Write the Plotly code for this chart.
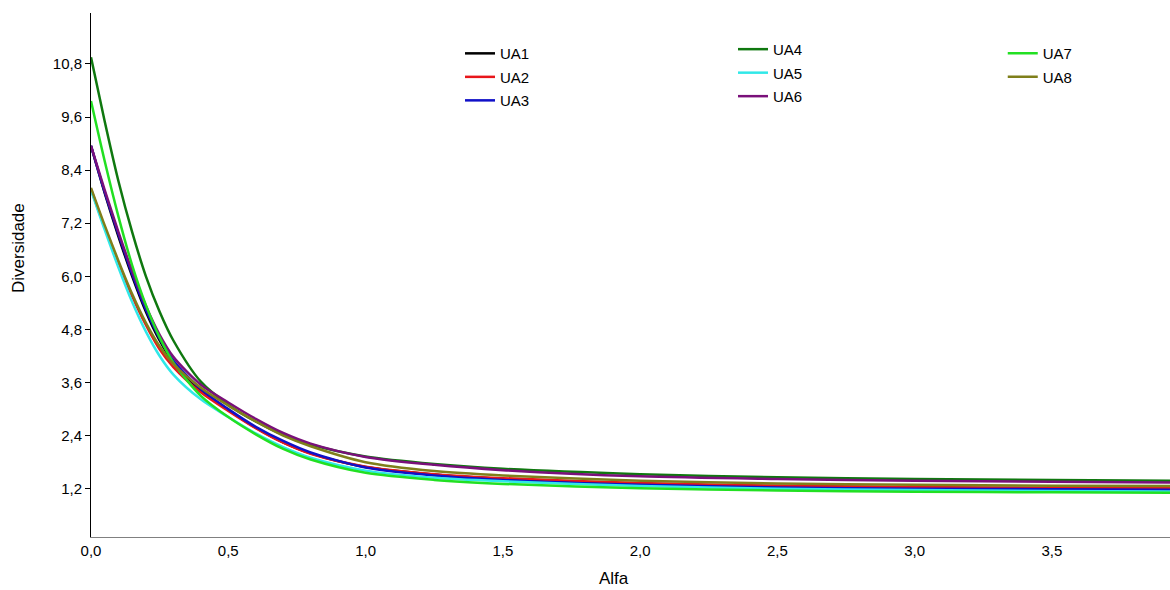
import plotly.graph_objects as go

alpha = [0, 0.05, 0.1, 0.15, 0.2, 0.25, 0.3, 0.4, 0.5, 0.6, 0.7, 0.8, 1.0, 1.25, 1.5, 2.0, 2.5, 3.0, 3.5, 3.93]

ua1 = [8.95, 7.88, 6.90, 6.00, 5.20, 4.55, 4.05, 3.42, 2.98, 2.58, 2.25, 2.00, 1.69, 1.52, 1.42, 1.31, 1.26, 1.23, 1.21, 1.20]
ua2 = [7.97, 7.10, 6.30, 5.55, 4.90, 4.35, 3.95, 3.38, 2.96, 2.57, 2.24, 1.99, 1.70, 1.53, 1.44, 1.33, 1.27, 1.24, 1.22, 1.21]
ua3 = [8.95, 7.90, 6.95, 6.05, 5.25, 4.60, 4.10, 3.45, 3.00, 2.60, 2.28, 2.02, 1.68, 1.50, 1.40, 1.29, 1.23, 1.20, 1.19, 1.18]
ua4 = [10.95, 9.50, 8.15, 7.00, 6.00, 5.20, 4.55, 3.62, 3.10, 2.72, 2.42, 2.20, 1.93, 1.76, 1.65, 1.53, 1.46, 1.42, 1.40, 1.38]
ua5 = [7.95, 7.05, 6.20, 5.42, 4.75, 4.20, 3.78, 3.22, 2.82, 2.45, 2.14, 1.90, 1.61, 1.45, 1.37, 1.26, 1.20, 1.17, 1.15, 1.14]
ua6 = [8.95, 7.95, 7.00, 6.12, 5.33, 4.68, 4.18, 3.55, 3.15, 2.78, 2.46, 2.22, 1.92, 1.74, 1.62, 1.48, 1.42, 1.38, 1.36, 1.34]
ua7 = [9.96, 8.60, 7.35, 6.25, 5.35, 4.62, 4.05, 3.30, 2.82, 2.43, 2.10, 1.86, 1.56, 1.40, 1.31, 1.21, 1.16, 1.13, 1.12, 1.11]
ua8 = [8.00, 7.15, 6.35, 5.60, 4.95, 4.42, 4.02, 3.48, 3.08, 2.72, 2.40, 2.16, 1.80, 1.60, 1.50, 1.38, 1.32, 1.29, 1.27, 1.26]

names = ["UA1", "UA2", "UA3", "UA4", "UA5", "UA6", "UA7", "UA8"]
series = [ua1, ua2, ua3, ua4, ua5, ua6, ua7, ua8]
colors = ["#000000", "#e8161a", "#1010c8", "#0f780f", "#30e8e8", "#7a107a", "#22e022", "#7f7f1a"]
legends = ["legend", "legend", "legend", "legend2", "legend2", "legend2", "legend3", "legend3"]

yticks = [1.2, 2.4, 3.6, 4.8, 6.0, 7.2, 8.4, 9.6, 10.8]
xticks = [0.0, 0.5, 1.0, 1.5, 2.0, 2.5, 3.0, 3.5]

fig = go.Figure()
for n, s, c, lg in zip(names, series, colors, legends):
    fig.add_trace(go.Scatter(x=alpha, y=s, name=n, mode="lines",
                             line=dict(color=c, width=2.5, shape="spline", smoothing=0.8),
                             legend=lg, legendgroup=n))

font = dict(family="Liberation Sans, Arial, sans-serif", size=15, color="#000000")
leg_common = dict(font=font, bgcolor="rgba(0,0,0,0)", borderwidth=0, tracegroupgap=1,
                  traceorder="grouped", xref="paper", yref="paper",
                  xanchor="left", yanchor="top", itemwidth=30)

fig.update_layout(
    width=1170, height=590,
    margin=dict(l=91, r=0, t=13, b=53, autoexpand=False),
    paper_bgcolor="white", plot_bgcolor="white",
    separators=",.",
    font=font,
    legend=dict(x=0.342, y=0.954, **leg_common),
    legend2=dict(x=0.595, y=0.962, **leg_common),
    legend3=dict(x=0.845, y=0.954, **leg_common),
    xaxis=dict(range=[0, 3.93], tickvals=xticks, tickformat=".1f", showgrid=False, zeroline=False,
               showline=True, linecolor="#808080", linewidth=1, ticks="", tickangle=0),
    yaxis=dict(range=[0.11, 11.95], tickvals=yticks, tickformat=".1f", showgrid=False, zeroline=False,
               showline=True, linecolor="#000000", linewidth=1, ticks="outside", ticklen=5,
               tickcolor="#000000"),
    annotations=[
        dict(text="Alfa", xref="paper", yref="paper", x=(614 - 91) / 1079, y=(537 - 578) / 524,
             xanchor="center", yanchor="middle", showarrow=False,
             font=dict(family="Liberation Sans, Arial, sans-serif", size=17, color="#000000")),
        dict(text="Diversidade", xref="paper", yref="paper", x=(18 - 91) / 1079, y=(537 - 248) / 524,
             xanchor="center", yanchor="middle", showarrow=False, textangle=-90,
             font=dict(family="Liberation Sans, Arial, sans-serif", size=17, color="#000000")),
    ],
)

fig.write_html("out.html")
